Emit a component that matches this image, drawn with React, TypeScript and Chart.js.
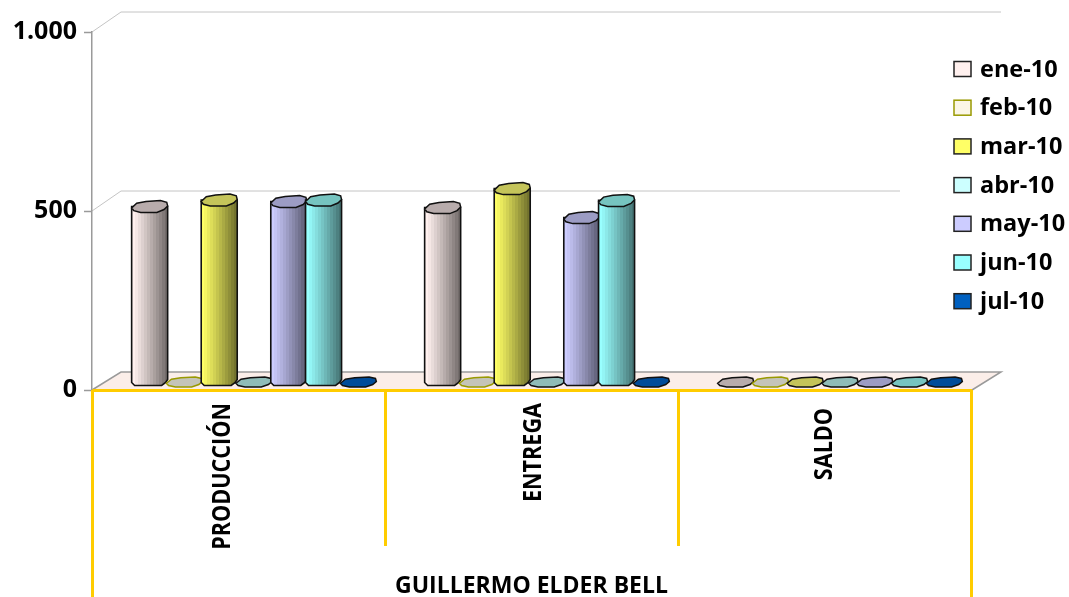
import React, { useEffect, useRef } from "react";
import { Chart, registerables } from "chart.js";

Chart.register(...registerables);

const categories = ["PRODUCCIÓN", "ENTREGA", "SALDO"];
const months = ["ene-10", "feb-10", "mar-10", "abr-10", "may-10", "jun-10", "jul-10"];
const ene10 = [493, 490, 0];
const feb10 = [0, 0, 0];
const mar10 = [511, 543, 0];
const abr10 = [0, 0, 0];
const may10 = [507, 462, 0];
const jun10 = [511, 510, 0];
const jul10 = [0, 0, 0];
const seriesValues = [ene10, feb10, mar10, abr10, may10, jun10, jul10];
const bodyColors = ["#FFF0EE", "#E8E8D8", "#FFFF66", "#CCFFFF", "#CCCCFF", "#99FFFF", "#0060C0"];
const capColors = ["#B8ACAC", "#C4C4B8", "#C4C45A", "#8FBCB8", "#9C9CC4", "#76C4C0", "#004C99"];
const edgeColors = ["#111111", "#999900", "#111111", "#111111", "#111111", "#111111", "#111111"];
const groupTitle = "GUILLERMO ELDER BELL";
const tickValues = [0, 500, 1000];

const DEPTH_X = 29;
const DEPTH_Y = 18;
const BAR_DX = 15.5;
const BAR_DY = -7;
const YELLOW = "#FFCC00";
const GRID = "#C4C4C4";
const AXIS = "#9A9A9A";
const FONT = "Open Sans";

function shade(hex: string, f: number) {
  const n = parseInt(hex.slice(1), 16);
  const c = [(n >> 16) & 255, (n >> 8) & 255, n & 255].map((v) => Math.round(v * f));
  return `rgb(${c[0]},${c[1]},${c[2]})`;
}

function capPath(ctx: CanvasRenderingContext2D, x: number, y: number, rx: number, ry: number) {
  const pts = [
    [-1, 0.25], [-0.72, -0.55], [-0.2, -0.85], [0.6, -1], [0.95, -0.7], [1, -0.1],
    [0.8, 0.5], [0.4, 1], [-0.5, 1], [-0.88, 0.7],
  ];
  ctx.beginPath();
  pts.forEach(([a, b], i) => {
    const px = x + a * rx;
    const py = y + b * ry;
    if (i === 0) ctx.moveTo(px, py);
    else ctx.lineTo(px, py);
  });
  ctx.closePath();
}

function drawCylinder(ctx: CanvasRenderingContext2D, el: any, i: number) {
  const w = 36;
  const cx = el.x + BAR_DX;
  const top = el.y + BAR_DY;
  const base = el.base + BAR_DY;
  const rx = w / 2;
  const tall = base - top > 1;
  const ry = tall ? 6 : 5;
  ctx.save();
  if (tall) {
    const left = cx - rx;
    const grad = ctx.createLinearGradient(left, 0, left + w, 0);
    const bands = 12;
    for (let b = 0; b < bands; b++) {
      const t = b / (bands - 1);
      const f = 1 - 0.55 * Math.pow(t, 1.1);
      grad.addColorStop(b / bands, shade(bodyColors[i], f));
      grad.addColorStop((b + 1) / bands, shade(bodyColors[i], f));
    }
    ctx.beginPath();
    ctx.moveTo(left, top);
    ctx.lineTo(left, base);
    ctx.lineTo(left + 3, base + 3);
    ctx.lineTo(left + w - 6, base + 3);
    ctx.lineTo(left + w - 2, base);
    ctx.lineTo(left + w, base - 3);
    ctx.lineTo(left + w, top);
    ctx.closePath();
    ctx.fillStyle = grad;
    ctx.fill();
    ctx.strokeStyle = "#111111";
    ctx.lineWidth = 1.6;
    ctx.stroke();
  }
  capPath(ctx, cx, tall ? top : top - 1, rx, ry);
  ctx.fillStyle = capColors[i];
  ctx.fill();
  ctx.strokeStyle = edgeColors[i];
  ctx.lineWidth = 1.5;
  ctx.stroke();
  ctx.restore();
}

const scene3d = {
  id: "scene3d",
  beforeDraw(chart: any) {
    const { ctx, chartArea: a, scales } = chart;
    const rightEnds: Record<number, number> = { 500: 900 };
    ctx.save();
    ctx.beginPath();
    ctx.moveTo(a.left, a.bottom);
    ctx.lineTo(a.left + DEPTH_X, a.bottom - DEPTH_Y);
    ctx.lineTo(a.right + DEPTH_X + 1, a.bottom - DEPTH_Y);
    ctx.lineTo(a.right + 1, a.bottom);
    ctx.closePath();
    ctx.fillStyle = "#FBEEE9";
    ctx.fill();
    ctx.beginPath();
    ctx.moveTo(a.left, a.bottom);
    ctx.lineTo(a.left + DEPTH_X, a.bottom - DEPTH_Y);
    ctx.lineTo(a.right + DEPTH_X + 1, a.bottom - DEPTH_Y);
    ctx.lineTo(a.right + 1, a.bottom);
    ctx.strokeStyle = AXIS;
    ctx.lineWidth = 1.5;
    ctx.stroke();
    tickValues.slice(1).forEach((v) => {
      const y = scales.y.getPixelForValue(v);
      ctx.beginPath();
      ctx.moveTo(a.left, y);
      ctx.lineTo(a.left + DEPTH_X, y - DEPTH_Y - 2);
      ctx.lineTo(rightEnds[v] ?? a.right + DEPTH_X + 1, y - DEPTH_Y - 2);
      ctx.strokeStyle = GRID;
      ctx.lineWidth = 1;
      ctx.stroke();
    });
    ctx.restore();
  },
  beforeDatasetsDraw(chart: any) {
    const { ctx } = chart;
    seriesValues.forEach((_, i) => {
      chart.getDatasetMeta(i).data.forEach((el: any) => drawCylinder(ctx, el, i));
    });
    return false;
  },
  afterDraw(chart: any) {
    const { ctx, chartArea: a, scales, height } = chart;
    ctx.save();
    ctx.strokeStyle = YELLOW;
    ctx.lineWidth = 3;
    [a.left + 0.5, a.right + 0.5].forEach((x) => {
      ctx.beginPath();
      ctx.moveTo(x, a.bottom);
      ctx.lineTo(x, height);
      ctx.stroke();
    });
    const labelShift = [-16, 2, 0];
    const labelTop = [13, 13, 18];
    ctx.fillStyle = "#000000";
    ctx.font = `bold 21.6px "${FONT}"`;
    ctx.textAlign = "right";
    ctx.textBaseline = "middle";
    categories.forEach((c, i) => {
      ctx.save();
      ctx.translate(scales.x.getPixelForTick(i) + labelShift[i], a.bottom + labelTop[i]);
      ctx.rotate(-Math.PI / 2);
      ctx.scale(1, 1.15);
      ctx.fillText(c, 0, 0);
      ctx.restore();
    });
    ctx.font = `bold 23.5px "${FONT}"`;
    ctx.textAlign = "left";
    months.forEach((m, i) => {
      const y = 69 + i * 38.7;
      ctx.fillStyle = i === 1 ? "#FBF6E6" : bodyColors[i];
      ctx.fillRect(954, y - 7.5, 17, 15);
      ctx.strokeStyle = i === 1 ? "#999900" : "#222222";
      ctx.lineWidth = 1.5;
      ctx.strokeRect(954, y - 7.5, 17, 15);
      ctx.fillStyle = "#000000";
      ctx.fillText(m, 980, y + 1);
    });
    ctx.restore();
  },
};

export default function App() {
  const ref = useRef<HTMLCanvasElement>(null);
  useEffect(() => {
    const chart = new Chart(ref.current as HTMLCanvasElement, {
      type: "bar",
      data: {
        labels: categories,
        datasets: months.map((m, i) => ({
          label: m,
          data: seriesValues[i],
          backgroundColor: bodyColors[i],
          categoryPercentage: 0.831,
          barPercentage: 1,
        })),
      },
      plugins: [scene3d],
      options: {
        animation: false,
        responsive: false,
        layout: { padding: { top: 32, right: 98, left: 0, bottom: 0 } },
        plugins: { legend: { display: false }, tooltip: { enabled: false } },
        scales: {
          x: {
            afterFit: (s: any) => { s.height = 207; },
            grid: {
              drawOnChartArea: false,
              tickLength: 156,
              tickColor: YELLOW,
              tickWidth: 3,
              offset: true,
            },
            border: { color: YELLOW, width: 3 },
            ticks: { display: false },
            title: {
              display: true,
              text: groupTitle,
              color: "#000000",
              font: { family: FONT, weight: "bold", size: 23 },
              padding: { top: 0, bottom: -3 },
            },
          },
          y: {
            min: 0,
            max: 1000,
            afterFit: (s: any) => { s.width = 92; },
            afterBuildTicks: (s: any) => { s.ticks = tickValues.map((value) => ({ value })); },
            grid: { drawOnChartArea: false, tickLength: 8, tickColor: AXIS, tickWidth: 1.5 },
            border: { color: AXIS, width: 1.5 },
            ticks: {
              color: "#000000",
              padding: 7,
              font: { family: FONT, weight: "bold", size: 25 },
              callback: (v: any) => String(v).replace(/\B(?=(\d{3})+$)/g, "."),
            },
          },
        },
      } as any,
    });
    return () => chart.destroy();
  }, []);
  return (
    <canvas
      ref={ref}
      width={1069}
      height={597}
      style={{ position: "fixed", left: 0, top: 0, display: "block" }}
    />
  );
}
